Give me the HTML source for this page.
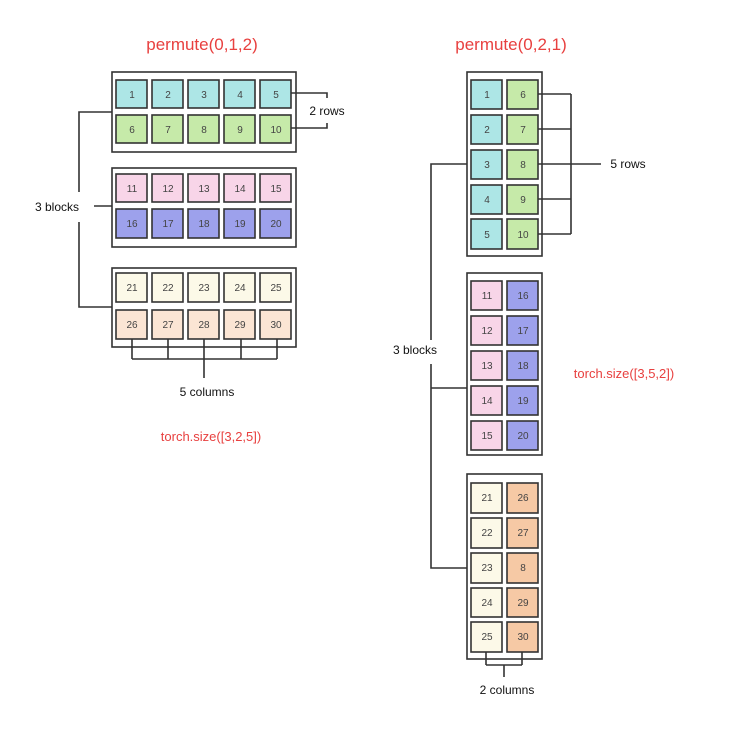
<!DOCTYPE html>
<html><head><meta charset="utf-8"><style>
html,body{margin:0;padding:0;background:#fff;}
svg{display:block;font-family:"Liberation Sans",sans-serif;}
</style></head><body>
<svg width="739" height="733" viewBox="0 0 739 733" xmlns="http://www.w3.org/2000/svg">
<rect width="739" height="733" fill="#fff"/>
<g font-size="17" fill="#e8403f" text-anchor="middle">
<text x="202" y="50">permute(0,1,2)</text>
<text x="511" y="50">permute(0,2,1)</text>
</g>
<g font-size="13" fill="#e8403f" text-anchor="middle">
<text x="211" y="441">torch.size([3,2,5])</text>
<text x="624" y="378">torch.size([3,5,2])</text>
</g>
<g font-size="12" fill="#111" text-anchor="middle">
<text x="327" y="115">2 rows</text>
<text x="57" y="211">3 blocks</text>
<text x="207" y="396">5 columns</text>
<text x="628" y="168">5 rows</text>
<text x="415" y="354">3 blocks</text>
<text x="507" y="694">2 columns</text>
</g>
<g fill="none" stroke="#333" stroke-width="1.6">
<!-- left boxes -->
<rect x="112" y="72" width="184" height="80"/>
<rect x="112" y="168" width="184" height="79"/>
<rect x="112" y="268" width="184" height="79"/>
<!-- right boxes -->
<rect x="467" y="72" width="75" height="184"/>
<rect x="467" y="273" width="75" height="182"/>
<rect x="467" y="474" width="75" height="185"/>
<!-- left brackets -->
<path d="M112 112 H79 V192 M79 222 V307 H112 M94 206 H112"/>
<path d="M291 93 H327 V98 M291 128 H327 V123"/>
<path d="M132 339 V359 M168 339 V359 M204 339 V378 M241 339 V359 M277 339 V359 M132 359 H277"/>
<!-- right brackets -->
<path d="M538 94 H571 M538 129 H571 M538 164 H601 M538 199 H571 M538 234 H571 M571 94 V234"/>
<path d="M467 164 H431 V340 M431 364 V568 H467 M431 388 H467"/>
<path d="M486 652 V665 M522 652 V665 M486 665 H522 M504 665 V677"/>
</g>
<g stroke="#333" stroke-width="1.6" font-size="10" text-anchor="middle">
<!-- left block 1 -->
<g>
<rect x="116" y="80" width="31" height="28" fill="#ade6e6"/><rect x="152" y="80" width="31" height="28" fill="#ade6e6"/><rect x="188" y="80" width="31" height="28" fill="#ade6e6"/><rect x="224" y="80" width="31" height="28" fill="#ade6e6"/><rect x="260" y="80" width="31" height="28" fill="#ade6e6"/>
<rect x="116" y="115" width="31" height="28" fill="#c6eaa9"/><rect x="152" y="115" width="31" height="28" fill="#c6eaa9"/><rect x="188" y="115" width="31" height="28" fill="#c6eaa9"/><rect x="224" y="115" width="31" height="28" fill="#c6eaa9"/><rect x="260" y="115" width="31" height="28" fill="#c6eaa9"/>
<rect x="116" y="174" width="31" height="28" fill="#f8d5e8"/><rect x="152" y="174" width="31" height="28" fill="#f8d5e8"/><rect x="188" y="174" width="31" height="28" fill="#f8d5e8"/><rect x="224" y="174" width="31" height="28" fill="#f8d5e8"/><rect x="260" y="174" width="31" height="28" fill="#f8d5e8"/>
<rect x="116" y="209" width="31" height="29" fill="#9da1ec"/><rect x="152" y="209" width="31" height="29" fill="#9da1ec"/><rect x="188" y="209" width="31" height="29" fill="#9da1ec"/><rect x="224" y="209" width="31" height="29" fill="#9da1ec"/><rect x="260" y="209" width="31" height="29" fill="#9da1ec"/>
<rect x="116" y="273" width="31" height="29" fill="#fcf9e8"/><rect x="152" y="273" width="31" height="29" fill="#fcf9e8"/><rect x="188" y="273" width="31" height="29" fill="#fcf9e8"/><rect x="224" y="273" width="31" height="29" fill="#fcf9e8"/><rect x="260" y="273" width="31" height="29" fill="#fcf9e8"/>
<rect x="116" y="310" width="31" height="29" fill="#fbe5d4"/><rect x="152" y="310" width="31" height="29" fill="#fbe5d4"/><rect x="188" y="310" width="31" height="29" fill="#fbe5d4"/><rect x="224" y="310" width="31" height="29" fill="#fbe5d4"/><rect x="260" y="310" width="31" height="29" fill="#fbe5d4"/>
</g>
<!-- right -->
<g>
<rect x="471" y="80" width="31" height="29" fill="#ade6e6"/><rect x="471" y="115" width="31" height="29" fill="#ade6e6"/><rect x="471" y="150" width="31" height="29" fill="#ade6e6"/><rect x="471" y="185" width="31" height="29" fill="#ade6e6"/><rect x="471" y="219" width="31" height="30" fill="#ade6e6"/>
<rect x="507" y="80" width="31" height="29" fill="#c6eaa9"/><rect x="507" y="115" width="31" height="29" fill="#c6eaa9"/><rect x="507" y="150" width="31" height="29" fill="#c6eaa9"/><rect x="507" y="185" width="31" height="29" fill="#c6eaa9"/><rect x="507" y="219" width="31" height="30" fill="#c6eaa9"/>
<rect x="471" y="281" width="31" height="29" fill="#f8d5e8"/><rect x="471" y="316" width="31" height="29" fill="#f8d5e8"/><rect x="471" y="351" width="31" height="29" fill="#f8d5e8"/><rect x="471" y="386" width="31" height="29" fill="#f8d5e8"/><rect x="471" y="421" width="31" height="29" fill="#f8d5e8"/>
<rect x="507" y="281" width="31" height="29" fill="#9da1ec"/><rect x="507" y="316" width="31" height="29" fill="#9da1ec"/><rect x="507" y="351" width="31" height="29" fill="#9da1ec"/><rect x="507" y="386" width="31" height="29" fill="#9da1ec"/><rect x="507" y="421" width="31" height="29" fill="#9da1ec"/>
<rect x="471" y="483" width="31" height="30" fill="#fcf9e8"/><rect x="471" y="518" width="31" height="30" fill="#fcf9e8"/><rect x="471" y="553" width="31" height="30" fill="#fcf9e8"/><rect x="471" y="588" width="31" height="29" fill="#fcf9e8"/><rect x="471" y="622" width="31" height="30" fill="#fcf9e8"/>
<rect x="507" y="483" width="31" height="30" fill="#f6c9a5"/><rect x="507" y="518" width="31" height="30" fill="#f6c9a5"/><rect x="507" y="553" width="31" height="30" fill="#f6c9a5"/><rect x="507" y="588" width="31" height="29" fill="#f6c9a5"/><rect x="507" y="622" width="31" height="30" fill="#f6c9a5"/>
</g>
</g>
<g font-size="10" fill="#444" text-anchor="middle">
<text x="132" y="98">1</text><text x="168" y="98">2</text><text x="204" y="98">3</text><text x="240" y="98">4</text><text x="276" y="98">5</text>
<text x="132" y="133">6</text><text x="168" y="133">7</text><text x="204" y="133">8</text><text x="240" y="133">9</text><text x="276" y="133">10</text>
<text x="132" y="192">11</text><text x="168" y="192">12</text><text x="204" y="192">13</text><text x="240" y="192">14</text><text x="276" y="192">15</text>
<text x="132" y="227">16</text><text x="168" y="227">17</text><text x="204" y="227">18</text><text x="240" y="227">19</text><text x="276" y="227">20</text>
<text x="132" y="291">21</text><text x="168" y="291">22</text><text x="204" y="291">23</text><text x="240" y="291">24</text><text x="276" y="291">25</text>
<text x="132" y="328">26</text><text x="168" y="328">27</text><text x="204" y="328">28</text><text x="240" y="328">29</text><text x="276" y="328">30</text>
<text x="487" y="98">1</text><text x="487" y="133">2</text><text x="487" y="168">3</text><text x="487" y="203">4</text><text x="487" y="238">5</text>
<text x="523" y="98">6</text><text x="523" y="133">7</text><text x="523" y="168">8</text><text x="523" y="203">9</text><text x="523" y="238">10</text>
<text x="487" y="299">11</text><text x="487" y="334">12</text><text x="487" y="369">13</text><text x="487" y="404">14</text><text x="487" y="439">15</text>
<text x="523" y="299">16</text><text x="523" y="334">17</text><text x="523" y="369">18</text><text x="523" y="404">19</text><text x="523" y="439">20</text>
<text x="487" y="501">21</text><text x="487" y="536">22</text><text x="487" y="571">23</text><text x="487" y="606">24</text><text x="487" y="640">25</text>
<text x="523" y="501">26</text><text x="523" y="536">27</text><text x="523" y="571">8</text><text x="523" y="606">29</text><text x="523" y="640">30</text>
</g>
</svg>
</body></html>
